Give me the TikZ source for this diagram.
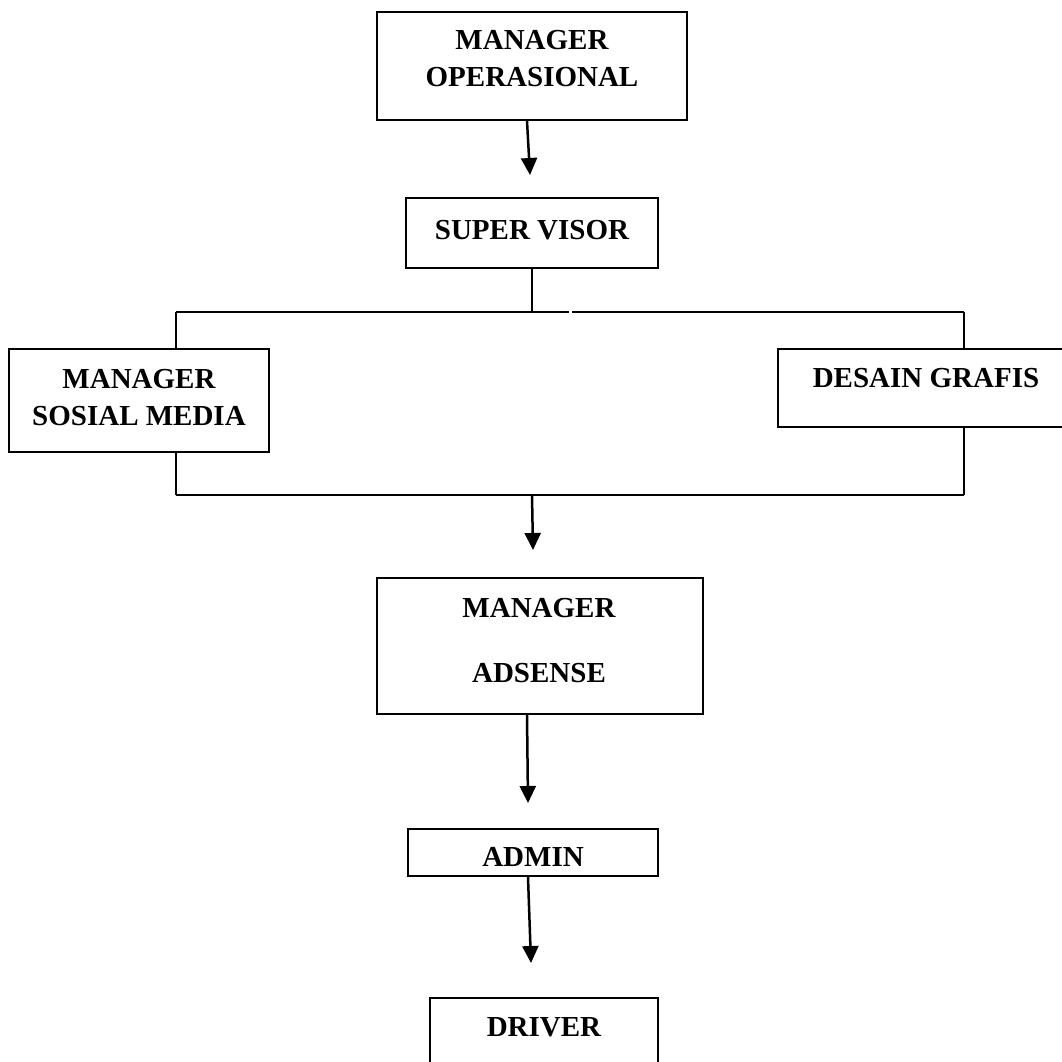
\documentclass[tikz,border=0pt]{standalone}
\usepackage{fontspec}
\setmainfont{Liberation Serif}
\usetikzlibrary{arrows.meta}
\begin{document}
\begin{tikzpicture}[x=1pt,y=-1pt,
  box/.style={draw, line width=2.2pt, inner sep=0pt},
  lbl/.style={font=\fontsize{29}{37}\selectfont\bfseries, align=center, inner sep=0pt},
  arr/.style={line width=2.5pt, -{Triangle[length=17pt,width=16pt]}},
  ln/.style={line width=2.2pt}]
\useasboundingbox (0,0) rectangle (1062,1061);
% boxes
\node[box, minimum width=310pt, minimum height=108pt] (mo) at (532,66) {};
\node[box, minimum width=252pt, minimum height=70pt] (sv) at (532,233) {};
\node[box, minimum width=260pt, minimum height=103pt] (ms) at (139,400.5) {};
\node[box, minimum width=297pt, minimum height=78pt] (dg) at (926.5,388) {};
\node[box, minimum width=326pt, minimum height=136pt] (ma) at (540,646) {};
\node[box, minimum width=250pt, minimum height=47pt] (ad) at (533,852.5) {};
\node[box, minimum width=228pt, minimum height=80pt] (dr) at (544,1038) {};
% texts
\node[lbl] (mo-t) at (532,58.5) {MANAGER\\OPERASIONAL};
\node[lbl, anchor=base] (sv-t) at (532,239.5) {SUPER VISOR};
\node[lbl] (ms-t) at (139,397.5) {MANAGER\\SOSIAL MEDIA};
\node[lbl, anchor=base] (dg-t) at (926,387.5) {DESAIN GRAFIS};
\node[lbl, font=\fontsize{29}{65}\selectfont\bfseries] (ma-t) at (539,640.5) {MANAGER\\ADSENSE};
\node[lbl, anchor=base] (ad-t) at (533,866.5) {ADMIN};
\node[lbl, anchor=base] (dr-t) at (544,1036.5) {DRIVER};
% coordinates
\coordinate (a1) at (530,175);
\coordinate (L1) at (176,312);
\coordinate (R1) at (964,312);
\coordinate (g1) at (569,312);
\coordinate (g2) at (572,312);
\coordinate (L2) at (176,495);
\coordinate (R2) at (964,495);
\coordinate (a2) at (533,550);
\coordinate (a3) at (528,803);
\coordinate (a4) at (531,963);
% connectors
\draw[arr] ([xshift=-5pt]mo.south) -- (a1);
\draw[ln] (sv.south) -- (sv.south |- L1);
\draw[ln] (L1) -- (g1);
\draw[ln] (g2) -- (R1);
\draw[ln] (L1) -- (L1 |- ms.north);
\draw[ln] (R1) -- (R1 |- dg.north);
\draw[ln] (L1 |- ms.south) -- (L2);
\draw[ln] (R1 |- dg.south) -- (R2);
\draw[ln] (L2) -- (R2);
\draw[arr] (L2 -| sv.south) -- (a2);
\draw[arr] ([xshift=-13pt]ma.south) -- (a3);
\draw[arr] ([xshift=-5pt]ad.south) -- (a4);
\end{tikzpicture}
\end{document}
